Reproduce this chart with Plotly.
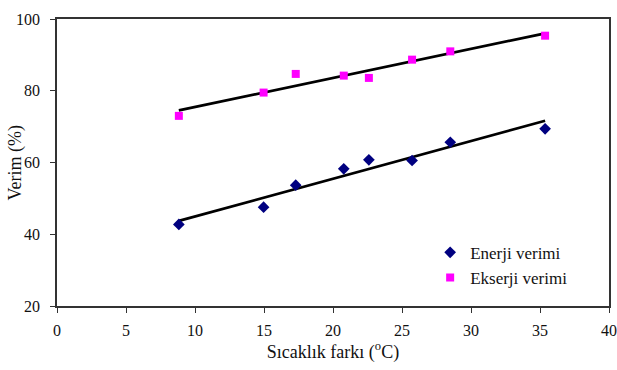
import numpy as np
import plotly.graph_objects as go

# Data
sicaklik_farki = [8.83, 14.97, 17.3, 20.78, 22.6, 25.73, 28.5, 35.37]
enerji_verimi = [42.74, 47.56, 53.68, 58.25, 60.75, 60.56, 65.65, 69.38]
ekserji_verimi = [73.0, 79.49, 84.69, 84.22, 83.58, 88.67, 90.98, 95.35]

x_ticks = [0, 5, 10, 15, 20, 25, 30, 35, 40]
y_ticks = [20, 40, 60, 80, 100]

FONT = "Liberation Serif"

x = np.array(sicaklik_farki)
xl = np.array([x.min(), x.max()])

fig = go.Figure()

for ys in (enerji_verimi, ekserji_verimi):
    m, b = np.polyfit(x, np.array(ys), 1)
    fig.add_trace(go.Scatter(x=xl, y=m * xl + b, mode="lines",
                             line=dict(color="black", width=2.7),
                             showlegend=False, hoverinfo="skip"))

fig.add_trace(go.Scatter(x=sicaklik_farki, y=enerji_verimi, mode="markers",
                         name="Enerji verimi",
                         marker=dict(symbol="diamond", color="#000080", size=9)))
fig.add_trace(go.Scatter(x=sicaklik_farki, y=ekserji_verimi, mode="markers",
                         name="Ekserji verimi",
                         marker=dict(symbol="square", color="#FF00FF", size=8)))

fig.update_layout(
    width=617, height=370,
    margin=dict(l=57, r=8, t=19, b=64, autoexpand=False),
    paper_bgcolor="white", plot_bgcolor="white",
    font=dict(family=FONT, size=16, color="#111111"),
    legend=dict(x=0.676, y=0.248, xanchor="left", yanchor="top",
                bgcolor="rgba(0,0,0,0)", font=dict(size=17, family=FONT),
                itemwidth=30, tracegroupgap=0),
    xaxis=dict(range=[0, 40], tickvals=x_ticks, showgrid=False, zeroline=False,
               showline=True, linecolor="#333333", linewidth=1.6, mirror=True,
               ticks="outside", ticklen=5, tickcolor="#333333",
               tickfont=dict(size=16, family=FONT), automargin=False,
               ticklabelstandoff=4,
               title=dict(text="Sıcaklık farkı (<sup>o</sup>C)",
                          font=dict(size=18, family=FONT), standoff=6)),
    yaxis=dict(range=[20, 100], tickvals=y_ticks, showgrid=False, zeroline=False,
               showline=True, linecolor="#333333", linewidth=1.6, mirror=True,
               ticks="outside", ticklen=5, tickcolor="#333333",
               tickfont=dict(size=16, family=FONT), ticklabelstandoff=7,
               automargin=False),
    annotations=[dict(text="Verim (%)", textangle=-90, xref="paper", yref="paper",
                      x=-0.0743, y=0.5, xanchor="center", yanchor="middle",
                      showarrow=False, font=dict(size=18, family=FONT))],
)

fig.write_html("out.html", config={"displayModeBar": False},
               post_script="document.body.style.margin='0';document.body.style.overflow='hidden';")
